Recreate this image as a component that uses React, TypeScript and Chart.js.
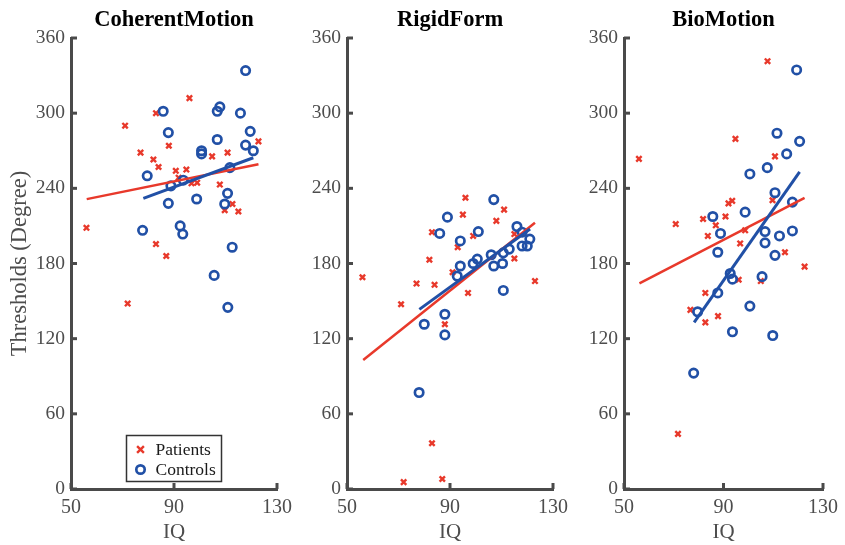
import React, { useEffect, useRef } from 'react';
import { Chart, registerables } from 'chart.js';

Chart.register(...registerables);

const W = 845;
const H = 545;
const RED = '#e8392b';
const BLUE = '#2150a6';
const AXIS = '#4a4a4a';
const TICKCOL = '#4d4d4d';
const FONT = "'Liberation Serif', 'Times New Roman', serif";

const xTicks = [50, 90, 130];
const yTicks = [0, 60, 120, 180, 240, 300, 360];
const panelTitles = ['CoherentMotion', 'RigidForm', 'BioMotion'];
const legendLabels = ['Patients', 'Controls'];

// ---- CoherentMotion ----
const cmPatientsIQ = [56, 71, 83, 96, 77, 88, 82, 84, 90.7, 94.8, 91.8, 96.8, 99, 104.8, 110.8, 107.8, 112.7, 109.7, 115, 122.8, 83, 87, 72];
const cmPatientsThr = [208.5, 290, 300, 312, 268.5, 274, 263, 257, 254, 255, 248.5, 244, 244.5, 265.5, 268.5, 243, 227.5, 222.5, 221.5, 277.5, 195.5, 186, 148];
const cmControlsIQ = [117.8, 85.8, 106.8, 107.8, 115.8, 87.8, 119.6, 106.8, 117.8, 100.7, 100.7, 120.8, 79.6, 111.7, 93.6, 88.8, 87.8, 98.8, 110.8, 109.7, 77.8, 92.4, 93.4, 112.6, 105.6, 110.9];
const cmControlsThr = [334, 301.5, 301.5, 305, 300, 284.5, 285.5, 279, 274.5, 270, 267.5, 270, 250, 256.5, 246.5, 242, 228, 231.5, 236, 227.5, 206.5, 210, 203.5, 193, 170.5, 145];
const cmPatientsFitIQ = [56.1, 122.8];
const cmPatientsFitThr = [231.4, 259.3];
const cmControlsFitIQ = [78.1, 120.8];
const cmControlsFitThr = [232, 264.4];

// ---- RigidForm ----
const rfPatientsIQ = [96, 95, 111, 108, 83, 99, 115, 93, 82, 56, 77, 84, 71, 91, 97, 123, 88, 83, 72, 87, 115];
const rfPatientsThr = [232.5, 219, 223, 214, 205, 202, 203.5, 193, 183, 169, 164, 163, 147.5, 173, 156.5, 166, 131.5, 36.5, 5.5, 8, 184];
const rfControlsIQ = [107, 89, 86, 101, 94, 116, 118, 121, 118, 120, 113, 110.7, 106, 100.6, 99, 94, 92.8, 107, 110.4, 110.7, 80, 88, 88, 78];
const rfControlsThr = [231, 217, 204, 205.5, 198, 209.5, 205, 199.5, 194, 194, 191.5, 188.5, 187, 183.5, 180, 178, 170, 178, 180, 158.5, 131.5, 139.5, 123, 77];
const rfPatientsFitIQ = [56.3, 123];
const rfPatientsFitThr = [102.9, 212.5];
const rfControlsFitIQ = [78.1, 121.1];
const rfControlsFitThr = [143.4, 207.5];

// ---- BioMotion ----
const bmPatientsIQ = [107.7, 56, 94.8, 110.7, 109.7, 92, 93.5, 70.8, 81.8, 90.8, 86.9, 83.7, 98.7, 96.7, 114.7, 122.6, 96.1, 105, 82.7, 76.7, 82.7, 87.8, 71.7];
const bmPatientsThr = [341.5, 263.5, 279.5, 265.5, 230.5, 228, 230, 211.5, 215.5, 217.5, 210.5, 202, 206.5, 196, 189, 177.5, 167, 166, 156.5, 143, 133, 138, 44];
const bmControlsIQ = [119.4, 111.5, 120.6, 115.4, 107.6, 100.6, 110.7, 117.7, 85.7, 98.7, 88.8, 106.7, 106.7, 112.5, 117.7, 87.7, 110.7, 92.7, 93.6, 105.5, 87.7, 79.6, 100.6, 93.6, 109.8, 78];
const bmControlsThr = [334.5, 284, 277.5, 267.5, 256.5, 251.5, 236.5, 229, 217.5, 221, 204, 205.5, 196.5, 202, 206, 189, 186.5, 172, 167.5, 169.5, 156.5, 141.5, 146, 125.5, 122.5, 92.5];
const bmPatientsFitIQ = [56.2, 122.6];
const bmPatientsFitThr = [164.1, 232.4];
const bmControlsFitIQ = [78.2, 120.6];
const bmControlsFitThr = [133, 253.2];

const zip = (xs: number[], ys: number[]) => xs.map((x, i) => ({ x, y: ys[i] }));

const panelData = [
  { pIQ: cmPatientsIQ, pThr: cmPatientsThr, cIQ: cmControlsIQ, cThr: cmControlsThr, pfx: cmPatientsFitIQ, pfy: cmPatientsFitThr, cfx: cmControlsFitIQ, cfy: cmControlsFitThr },
  { pIQ: rfPatientsIQ, pThr: rfPatientsThr, cIQ: rfControlsIQ, cThr: rfControlsThr, pfx: rfPatientsFitIQ, pfy: rfPatientsFitThr, cfx: rfControlsFitIQ, cfy: rfControlsFitThr },
  { pIQ: bmPatientsIQ, pThr: bmPatientsThr, cIQ: bmControlsIQ, cThr: bmControlsThr, pfx: bmPatientsFitIQ, pfy: bmPatientsFitThr, cfx: bmControlsFitIQ, cfy: bmControlsFitThr },
];

// layout (pixel edges of each plot area)
const plotLeft = [71, 347, 624];
const plotRight = [277, 553, 829];
const PLOT_BOTTOM = 489;

const inwardTicks = {
  id: 'inwardTicks',
  afterDraw(chart: any) {
    const { ctx, chartArea, scales } = chart;
    const xs = scales.x;
    const ys = scales.y;
    ctx.save();
    ctx.strokeStyle = AXIS;
    ctx.lineWidth = 3;
    for (const t of xs.ticks) {
      const px = xs.getPixelForValue(t.value);
      ctx.beginPath();
      ctx.moveTo(px, chartArea.bottom);
      ctx.lineTo(px, chartArea.bottom - 6);
      ctx.stroke();
    }
    for (const t of ys.ticks) {
      const py = ys.getPixelForValue(t.value);
      ctx.beginPath();
      ctx.moveTo(chartArea.left, py);
      ctx.lineTo(chartArea.left + 6, py);
      ctx.stroke();
    }
    ctx.restore();
  },
};

const legendBox = {
  id: 'legendBox',
  afterDraw(chart: any, _args: any, opts: any) {
    if (!opts || !opts.show) return;
    const { ctx, chartArea } = chart;
    const left = chartArea.left + 55.5;
    const top = chartArea.bottom - 53.5;
    const w = 95;
    const h = 46;
    ctx.save();
    ctx.fillStyle = '#ffffff';
    ctx.fillRect(left, top, w, h);
    ctx.strokeStyle = '#333333';
    ctx.lineWidth = 1.5;
    ctx.strokeRect(left, top, w, h);
    const mx = left + 14;
    const r1 = top + 14;
    const r2 = top + 34;
    ctx.strokeStyle = RED;
    ctx.lineWidth = 2.4;
    const s = 3.4;
    ctx.beginPath();
    ctx.moveTo(mx - s, r1 - s); ctx.lineTo(mx + s, r1 + s);
    ctx.moveTo(mx + s, r1 - s); ctx.lineTo(mx - s, r1 + s);
    ctx.stroke();
    ctx.strokeStyle = BLUE;
    ctx.lineWidth = 2.7;
    ctx.beginPath();
    ctx.arc(mx, r2, 4.2, 0, Math.PI * 2);
    ctx.stroke();
    ctx.fillStyle = '#1a1a1a';
    ctx.font = `17.5px ${FONT}`;
    ctx.textBaseline = 'middle';
    ctx.textAlign = 'left';
    ctx.fillText(legendLabels[0], left + 29, r1 + 1);
    ctx.fillText(legendLabels[1], left + 29, r2 + 1);
    ctx.restore();
  },
};

function Panel({ idx }: { idx: number }) {
  const ref = useRef<HTMLCanvasElement | null>(null);
  useEffect(() => {
    if (!ref.current) return;
    const d = panelData[idx];
    const chart = new Chart(ref.current, {
      type: 'scatter',
      data: {
        datasets: [
          {
            label: 'Controls fit',
            data: zip(d.cfx, d.cfy),
            showLine: true,
            borderColor: BLUE,
            borderWidth: 3,
            pointRadius: 0,
            order: 0,
          },
          {
            label: 'Patients fit',
            data: zip(d.pfx, d.pfy),
            showLine: true,
            borderColor: RED,
            borderWidth: 2.5,
            pointRadius: 0,
            order: 1,
          },
          {
            label: 'Controls',
            data: zip(d.cIQ, d.cThr),
            pointStyle: 'circle',
            pointRadius: 4.2,
            borderWidth: 2.7,
            borderColor: BLUE,
            backgroundColor: 'rgba(0,0,0,0)',
            order: 2,
          },
          {
            label: 'Patients',
            data: zip(d.pIQ, d.pThr),
            pointStyle: 'crossRot',
            pointRadius: 3.8,
            borderWidth: 2.4,
            borderColor: RED,
            backgroundColor: RED,
            order: 3,
          },
        ] as any,
      },
      options: {
        animation: false,
        responsive: false,
        devicePixelRatio: 1,
        events: [],
        layout: { padding: { left: 0, right: W - plotRight[idx], top: 0, bottom: 0 } },
        plugins: {
          legend: { display: false },
          tooltip: { enabled: false },
          title: {
            display: true,
            text: panelTitles[idx],
            fullSize: false,
            color: '#000000',
            font: { family: FONT, size: 22.5, weight: 'bold' },
            padding: { top: 6.5, bottom: 4.5 },
          },
          legendBox: { show: idx === 0 },
        } as any,
        scales: {
          x: {
            type: 'linear',
            min: 50,
            max: 130,
            afterBuildTicks: (s: any) => { s.ticks = xTicks.map((v) => ({ value: v })); },
            afterFit: (s: any) => { s.height = H - PLOT_BOTTOM; },
            grid: { display: false, drawTicks: false, tickLength: 0 },
            border: { display: true, color: AXIS, width: 3 },
            ticks: { color: TICKCOL, font: { family: FONT, size: 20 }, padding: 7, maxRotation: 0 },
            title: {
              display: true,
              text: 'IQ',
              color: TICKCOL,
              font: { family: FONT, size: 21 },
              padding: { top: 0, bottom: 0 },
            },
          },
          y: {
            type: 'linear',
            min: 0,
            max: 360,
            afterBuildTicks: (s: any) => { s.ticks = yTicks.map((v) => ({ value: v })); },
            afterFit: (s: any) => { s.width = plotLeft[idx]; },
            grid: { display: false, drawTicks: false, tickLength: 0 },
            border: { display: true, color: AXIS, width: 3 },
            ticks: { color: TICKCOL, font: { family: FONT, size: 19.5 }, padding: 6 },
            title: {
              display: idx === 0,
              text: 'Thresholds (Degree)',
              color: TICKCOL,
              font: { family: FONT, size: 22.5 },
              padding: { top: 6.5, bottom: 0 },
            },
          },
        },
      } as any,
      plugins: [inwardTicks, legendBox],
    });
    return () => chart.destroy();
  }, [idx]);
  return (
    <canvas
      ref={ref}
      width={W}
      height={H}
      style={{ position: 'absolute', left: 0, top: 0, width: W, height: H }}
    />
  );
}

export default function App() {
  return (
    <div style={{ position: 'fixed', left: 0, top: 0, width: W, height: H, background: '#ffffff' }}>
      <Panel idx={0} />
      <Panel idx={1} />
      <Panel idx={2} />
    </div>
  );
}
